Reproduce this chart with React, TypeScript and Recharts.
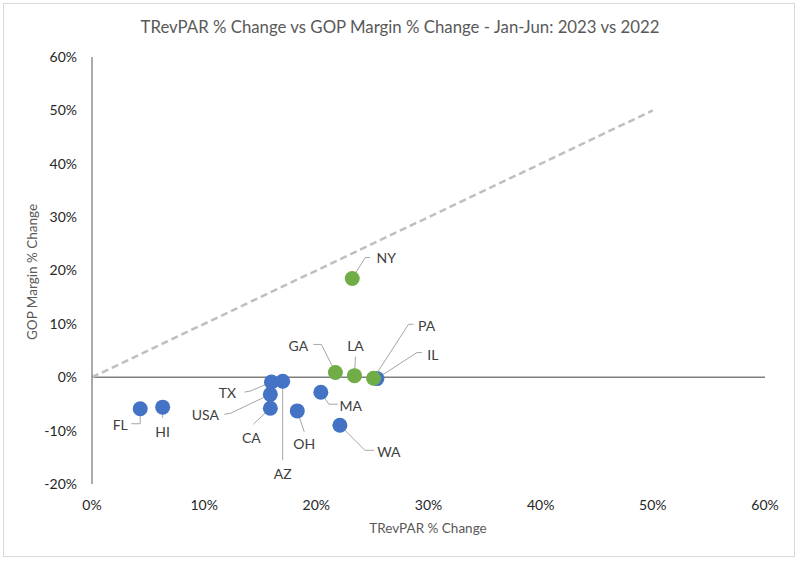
import React from 'react';
import { ScatterChart, Scatter, XAxis, YAxis, ReferenceLine } from 'recharts';

// Markets where GOP margin % change lags TRevPAR % change (blue) vs green
const blueNames = ['FL', 'HI', 'TX', 'USA', 'CA', 'AZ', 'OH', 'MA', 'WA', 'IL'];
const blueX = [4.3, 6.3, 16.0, 15.9, 15.9, 17.0, 18.3, 20.4, 22.1, 25.4];
const blueY = [-5.9, -5.6, -0.9, -3.2, -5.8, -0.75, -6.3, -2.8, -9.0, -0.25];

const greenNames = ['GA', 'LA', 'PA', 'NY'];
const greenX = [21.7, 23.4, 25.1, 23.2];
const greenY = [0.9, 0.3, -0.2, 18.5];

const xTicks = [0, 10, 20, 30, 40, 50, 60];
const yTicks = [-20, -10, 0, 10, 20, 30, 40, 50, 60];

// label layout (pixel offsets of text and callout line from the point)
const labelLayout: Record<string, { t: [number, number]; pts: [number, number][] }> = {
  NY: { t: [34, -21], pts: [[18, -21], [13, -21]] },
  GA: { t: [-37, -27], pts: [[-22, -28], [-14, -28]] },
  LA: { t: [1, -30], pts: [[1, -19]] },
  PA: { t: [53, -53], pts: [[40, -54], [35, -54]] },
  IL: { t: [56, -24], pts: [[45, -26], [40, -26]] },
  TX: { t: [-44, 10], pts: [[-27, 10], [-21, 9]] },
  USA: { t: [-65, 20], pts: [[-46, 20], [-40, 19]] },
  CA: { t: [-19, 29], pts: [[-17, 16]] },
  AZ: { t: [0, 92], pts: [[0, 79]] },
  OH: { t: [7, 33], pts: [[7, 21]] },
  MA: { t: [30, 13], pts: [[17, 12], [8, 12]] },
  WA: { t: [49, 26], pts: [[34, 25], [25, 25]] },
  FL: { t: [-20, 16], pts: [[-9, 15], [0, 15]] },
  HI: { t: [0, 24], pts: [[0, 11]] },
};

const blueData = blueNames.map((n, i) => ({ name: n, x: blueX[i], y: blueY[i] }));
const greenData = greenNames.map((n, i) => ({ name: n, x: greenX[i], y: greenY[i] }));

const FONT = 'Lato, "Open Sans", sans-serif';

const makeShape = (color: string) => (props: any) => {
  const { cx, cy, payload } = props;
  const lay = labelLayout[payload.name];
  const pts = lay.pts.map(([dx, dy]) => `${cx + dx},${cy + dy}`).join(' ') + ` ${cx},${cy}`;
  return (
    <g>
      <polyline points={pts} fill="none" stroke="#A6A6A6" strokeWidth={1} />
      <circle cx={cx} cy={cy} r={7.5} fill={color} />
      <text
        x={cx + lay.t[0]}
        y={cy + lay.t[1]}
        textAnchor="middle"
        dominantBaseline="central"
        fontSize={14}
        fontFamily={FONT}
        fill="#404040"
      >
        {payload.name}
      </text>
    </g>
  );
};

export default function App() {
  return (
    <div
      style={{
        position: 'absolute',
        left: 0,
        top: 0,
        width: 800,
        height: 562,
        background: '#fff',
        fontFamily: FONT,
      }}
    >
      <div
        style={{
          position: 'absolute',
          left: 3,
          top: 3,
          width: 792,
          height: 554,
          border: '1px solid #D9D9D9',
          boxSizing: 'border-box',
        }}
      />
      <div
        style={{
          position: 'absolute',
          left: 0,
          width: 800,
          top: 15,
          textAlign: 'center',
          fontSize: 16.8,
          color: '#595959',
          lineHeight: '24px',
        }}
      >
        TRevPAR % Change vs GOP Margin % Change - Jan-Jun: 2023 vs 2022
      </div>
      <div
        style={{
          position: 'absolute',
          left: 328,
          width: 200,
          top: 519,
          textAlign: 'center',
          fontSize: 13.5,
          color: '#595959',
          lineHeight: '18px',
        }}
      >
        TRevPAR % Change
      </div>
      <div
        style={{
          position: 'absolute',
          left: 32 - 100,
          width: 200,
          top: 272 - 9,
          textAlign: 'center',
          fontSize: 13.5,
          color: '#595959',
          lineHeight: '18px',
          transform: 'rotate(-90deg)',
        }}
      >
        GOP Margin % Change
      </div>
      <div style={{ position: 'absolute', left: 0, top: 0 }}>
        <ScatterChart
          width={800}
          height={562}
          margin={{ top: 57, right: 35, left: 32, bottom: 48 }}
        >
          <XAxis
            type="number"
            dataKey="x"
            domain={[0, 60]}
            ticks={xTicks}
            tickFormatter={(v: number) => `${v}%`}
            axisLine={false}
            tickLine={false}
            tickSize={0}
            tickMargin={16}
            height={30}
            interval={0}
            tick={{ fontSize: 14, fill: '#262626', fontFamily: FONT }}
          />
          <YAxis
            type="number"
            dataKey="y"
            domain={[-20, 60]}
            ticks={yTicks}
            tickFormatter={(v: number) => `${v}%`}
            axisLine={{ stroke: '#7F7F7F', strokeWidth: 1.3 }}
            tickLine={false}
            tickSize={0}
            tickMargin={15}
            width={60}
            interval={0}
            tick={{ fontSize: 14, fill: '#262626', fontFamily: FONT }}
          />
          <ReferenceLine y={0} stroke="#7F7F7F" strokeWidth={1.3} />
          <ReferenceLine
            segment={[
              { x: 0, y: 0 },
              { x: 50, y: 50 },
            ]}
            stroke="#BFBFBF"
            strokeWidth={2.5}
            strokeDasharray="7 4"
          />
          <Scatter data={blueData} isAnimationActive={false} shape={makeShape('#4472C4')} />
          <Scatter data={greenData} isAnimationActive={false} shape={makeShape('#70AD47')} />
        </ScatterChart>
      </div>
    </div>
  );
}
